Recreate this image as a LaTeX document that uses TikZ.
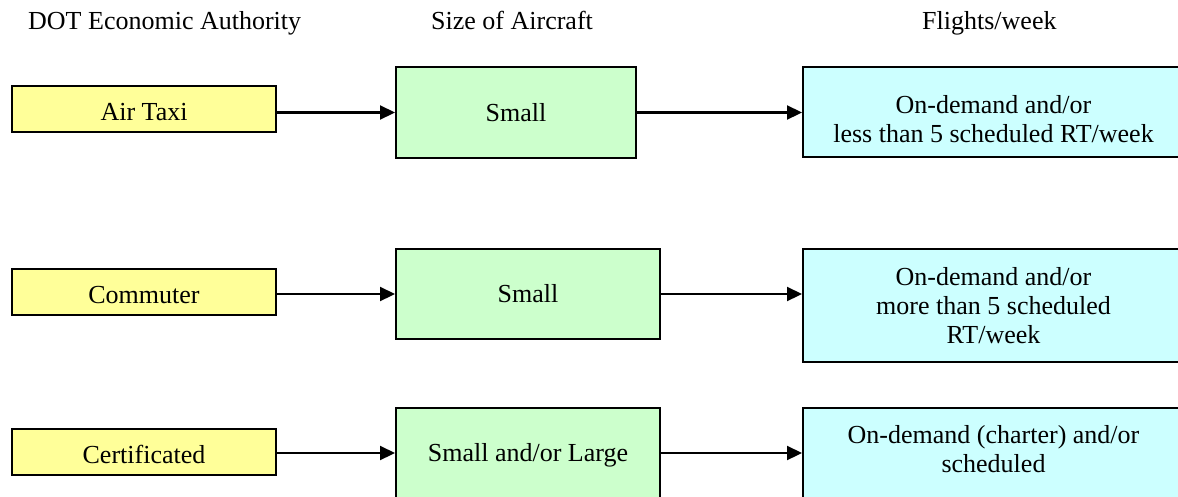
\documentclass[tikz,border=0pt]{standalone}
\usepackage{fontspec}
\setmainfont{Liberation Serif}
\usetikzlibrary{arrows.meta}
\definecolor{boxyellow}{HTML}{FFFF99}
\definecolor{boxgreen}{HTML}{CCFFCC}
\definecolor{boxcyan}{HTML}{CCFFFF}
\begin{document}
\begin{tikzpicture}[x=1pt,y=-1pt,
  base/.style={draw=black,line width=2pt,inner sep=0pt,font=\fontsize{26}{29}\selectfont,align=center},
  authbox/.style={base,fill=boxyellow,minimum width=264pt,minimum height=46pt,text height=23pt,text depth=0pt},
  sizebox/.style={base,fill=boxgreen,minimum height=90pt,text height=17.2pt,text depth=0pt},
  flightbox/.style={base,fill=boxcyan,minimum width=381pt},
  header/.style={anchor=base west,inner sep=0pt,font=\fontsize{26}{29}\selectfont},
  link/.style={line width=2.2pt,-{Triangle[length=15pt,width=14pt]}}]
\useasboundingbox (0,0) rectangle (1178,496);
% headers
\node[header] (h1) at (28,29.5) {DOT Economic Authority};
\node[header] (h2) at (431,29.5) {Size of Aircraft};
\node[header] (h3) at (922,29.5) {Flights/week};
% row 1
\node[authbox] (a1) at (144,109) {Air Taxi};
\node[sizebox,minimum width=240pt,minimum height=91pt] (s1) at (516,112.5) {Small};
\node[flightbox,minimum height=90pt,text height=60pt,text depth=0pt] (f1) at (993.5,112) {On-demand and/or\\less than 5 scheduled RT/week};
% row 2
\node[authbox] (a2) at (144,292) {Commuter};
\node[sizebox,minimum width=264pt] (s2) at (528,294) {Small};
\node[flightbox,minimum height=113pt,text height=75pt,text depth=0pt] (f2) at (993.5,305.5) {On-demand and/or\\more than 5 scheduled\\RT/week};
% row 3
\node[authbox] (a3) at (144,452) {Certificated};
\node[sizebox,minimum width=264pt] (s3) at (528,453) {Small and/or Large};
\node[flightbox,minimum height=92pt,text height=36pt,text depth=0pt] (f3) at (993.5,454) {On-demand (charter) and/or\\scheduled};
% connectors
\draw[link] (a1.east |- s1.west) -- (s1.west);
\draw[link] (s1.east) -- (s1.east -| f1.west);
\draw[link] (a2.east |- s2.west) -- (s2.west);
\draw[link] (s2.east) -- (s2.east -| f2.west);
\draw[link] (a3.east |- s3.west) -- (s3.west);
\draw[link] (s3.east) -- (s3.east -| f3.west);
\end{tikzpicture}
\end{document}
